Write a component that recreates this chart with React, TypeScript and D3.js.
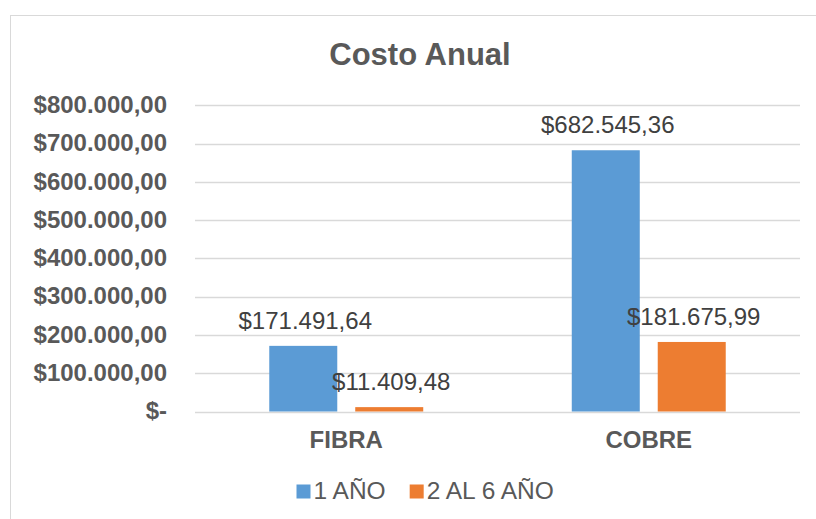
import { useEffect, useRef } from 'react'
import * as d3 from 'd3'

const categories = ['FIBRA', 'COBRE']
const seriesNames = ['1 AÑO', '2 AL 6 AÑO']
const valuesYear1 = [171491.64, 682545.36]
const valuesYear2to6 = [11409.48, 181675.99]
const yTicks = [0, 100000, 200000, 300000, 400000, 500000, 600000, 700000, 800000]
const colors = ['#5B9BD5', '#ED7D31']

const FONT = '"Liberation Sans", Arial, sans-serif'

const locale = d3.formatLocale({
  decimal: ',',
  thousands: '.',
  grouping: [3],
  currency: ['$', '']
})
const money = locale.format('$,.2f')
const fmt = (v: number) => (v === 0 ? '$-' : money(v))

const App = () => {
  const ref = useRef<SVGSVGElement | null>(null)

  useEffect(() => {
    const svg = d3.select(ref.current)
    svg.selectAll('*').remove()

    const width = 816
    const height = 519

    // chart frame
    svg.append('rect')
      .attr('x', 10.5).attr('y', 15.5)
      .attr('width', width + 20).attr('height', height + 20)
      .attr('fill', '#fff')
      .attr('stroke', '#D9D9D9')

    // title
    svg.append('text')
      .attr('x', 420).attr('y', 65)
      .attr('text-anchor', 'middle')
      .style('font-family', FONT)
      .style('font-size', '31px')
      .style('font-weight', 'bold')
      .attr('fill', '#595959')
      .text('Costo Anual')

    const x0 = d3.scaleBand()
      .domain(categories)
      .range([195, 800])
      .paddingInner(0.491)
      .paddingOuter(0.2455)

    const x1 = d3.scaleBand()
      .domain(seriesNames)
      .range([0, x0.bandwidth()])
      .paddingInner(0.209)

    const y = d3.scaleLinear()
      .domain([0, 800000])
      .range([411.5, 105.3])

    // gridlines
    svg.append('g')
      .selectAll('line')
      .data(yTicks)
      .enter()
      .append('line')
      .attr('x1', 195).attr('x2', 800)
      .attr('y1', d => Math.round(y(d)) + 0.5)
      .attr('y2', d => Math.round(y(d)) + 0.5)
      .attr('stroke', '#D9D9D9')
      .attr('stroke-width', 1.3)

    // y labels
    svg.append('g')
      .selectAll('text')
      .data(yTicks)
      .enter()
      .append('text')
      .attr('x', 167)
      .attr('y', d => y(d) + 7.8)
      .attr('text-anchor', 'end')
      .style('font-family', FONT)
      .style('font-size', '24px')
      .style('font-weight', 'bold')
      .attr('fill', '#595959')
      .text(d => fmt(d))

    const series = [valuesYear1, valuesYear2to6]
    const rows = categories.flatMap((c, i) =>
      seriesNames.map((s, j) => ({ cat: c, name: s, value: series[j][i], color: colors[j] }))
    )

    // bars
    svg.append('g')
      .selectAll('rect')
      .data(rows)
      .enter()
      .append('rect')
      .attr('x', d => x0(d.cat)! + x1(d.name)!)
      .attr('y', d => y(d.value))
      .attr('width', x1.bandwidth())
      .attr('height', d => y(0) - y(d.value))
      .attr('fill', d => d.color)

    // data labels
    svg.append('g')
      .selectAll('text')
      .data(rows)
      .enter()
      .append('text')
      .attr('x', d => x0(d.cat)! + x1(d.name)! + x1.bandwidth() / 2 + 2)
      .attr('y', d => y(d.value) - 17)
      .attr('text-anchor', 'middle')
      .style('font-family', FONT)
      .style('font-size', '24px')
      .attr('fill', '#404040')
      .text(d => fmt(d.value))

    // category labels
    svg.append('g')
      .selectAll('text')
      .data(categories)
      .enter()
      .append('text')
      .attr('x', d => x0(d)! + x0.bandwidth() / 2)
      .attr('y', 448.3)
      .attr('text-anchor', 'middle')
      .style('font-family', FONT)
      .style('font-size', '24px')
      .style('font-weight', 'bold')
      .attr('fill', '#595959')
      .text(d => d)

    // legend
    const legend = svg.append('g')
    let lx = 296.5
    seriesNames.forEach((name, i) => {
      legend.append('rect')
        .attr('x', lx).attr('y', 484.5)
        .attr('width', 14).attr('height', 14)
        .attr('fill', colors[i])
      const t = legend.append('text')
        .attr('x', lx + 17).attr('y', 498.7)
        .style('font-family', FONT)
        .style('font-size', '24.5px')
        .attr('fill', '#595959')
        .text(name)
      const w = (t.node() as SVGTextElement).getComputedTextLength()
      lx = lx + 17 + w + 24
    })
  }, [])

  return (
    <svg
      ref={ref}
      width={816}
      height={519}
      style={{ position: 'absolute', left: 0, top: 0, background: '#fff' }}
    />
  )
}

export default App
